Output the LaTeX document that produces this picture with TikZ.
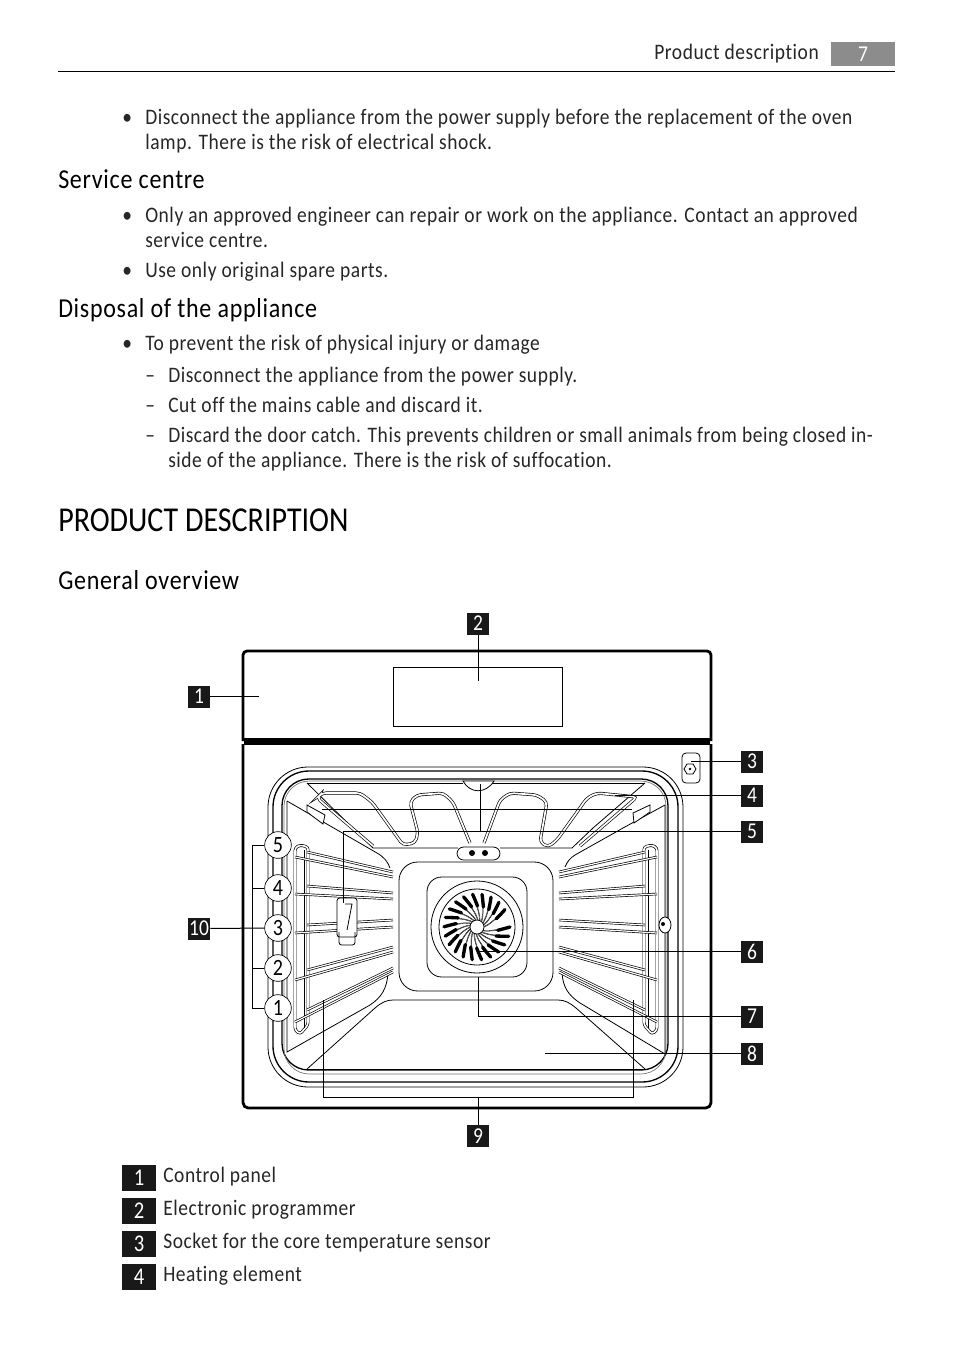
\documentclass[tikz,border=0pt]{standalone}
\usepackage{fontspec}
\setmainfont[FakeStretch=0.88, LetterSpace=2.5, Ligatures=NoCommon]{Carlito}
\newfontfamily\titleFont[FakeStretch=0.86, Ligatures=NoCommon]{Carlito}
\definecolor{headerGray}{gray}{0.55}
\definecolor{sealGray}{gray}{0.45}
\newcommand{\rackSide}{%
  \draw[line width=0.5pt, double=white, double distance=1.2pt, rounded corners=2pt] (295,1030) -- (295,848) -- (300,845) -- (308,847) -- (308,1025) -- (300,1034) -- cycle;
  \draw[line width=0.5pt] (304,850) -- (304,1028);
  \draw[line width=0.5pt, double=white, double distance=1pt] (385,872) -- (385,968);
  \foreach \ya/\yb/\yc/\yd in {852/872/857/877, 886/893/894/899, 925/920/933/927, 970/947/980/952, 1010/968/1022/972} {
    \draw[line width=0.5pt, double=white, double distance=0.9pt] (307,\ya) -- (393,\yb);
    \draw[line width=0.5pt, double=white, double distance=0.9pt] (295,\yc) -- (393,\yd);
  }
}
\begin{document}
\begin{tikzpicture}[x=0.75pt, y=-0.75pt]

          \tikzstyle{bodyText} = [anchor=base west, inner sep=0pt, font=\fontsize{16.6}{20}\selectfont, text=black!85];
          \tikzstyle{headText} = [anchor=base west, inner sep=0pt, font=\fontsize{20.5}{24}\selectfont];
          \tikzstyle{titleText} = [anchor=base west, inner sep=0pt, font=\titleFont\fontsize{26.2}{30}\selectfont];
          \tikzstyle{calloutBox} = [fill=black!90, text=white, inner sep=0pt, minimum size=16.5pt, font=\titleFont\fontsize{17}{18}\selectfont];
          \tikzstyle{legendBox} = [fill=black!90, text=white, inner sep=0pt, minimum width=25.5pt, minimum height=20.2pt, font=\titleFont\fontsize{18}{18}\selectfont];
          \tikzstyle{numberCircle} = [draw, line width=0.5pt, fill=white, circle, inner sep=0pt, minimum size=20pt, font=\titleFont\fontsize{17.5}{18}\selectfont];
          \tikzstyle{calloutEdge} = [line width=0.75pt];
          \tikzstyle{ovenEdge} = [line width=0.6pt];
          \tikzstyle{bodyEdge} = [line width=2.1pt];
          \tikzstyle{heaterEdge} = [line width=0.5pt, double=white, double distance=1.3pt, rounded corners=3pt];

          \useasboundingbox (0,0) rectangle (954,1352);

          \node[bodyText] (header) at (654,59.5) {Product description};
          \node[fill=headerGray, text=white, inner sep=0pt, minimum width=48pt, minimum height=18pt, font=\titleFont\fontsize{17}{18}\selectfont] (page) at (863,54) {7};
          \coordinate (ruleLeft) at (58,71.5);
          \coordinate (ruleRight) at (895,71.5);
          \draw[calloutEdge] (ruleLeft) -- (ruleRight);

          \node[bodyText] (bulletA) at (122,125) {•};
          \node[bodyText] (lineA) at (145,125) {Disconnect the appliance from the power supply before the replacement of the oven};
          \node[bodyText] (lineB) at (145,150) {lamp. There is the risk of electrical shock.};
          \node[headText] (service) at (58,189) {Service centre};
          \node[bodyText] (bulletB) at (122,222) {•};
          \node[bodyText] (lineC) at (145,222) {Only an approved engineer can repair or work on the appliance. Contact an approved};
          \node[bodyText] (lineD) at (145,247) {service centre.};
          \node[bodyText] (bulletC) at (122,277) {•};
          \node[bodyText] (lineE) at (145,277) {Use only original spare parts.};
          \node[headText] (disposal) at (58,317) {Disposal of the appliance};
          \node[bodyText] (bulletD) at (122,350) {•};
          \node[bodyText] (lineF) at (145,350) {To prevent the risk of physical injury or damage};
          \node[bodyText] (dashA) at (145,382) {–};
          \node[bodyText] (lineG) at (168,382) {Disconnect the appliance from the power supply.};
          \node[bodyText] (dashB) at (145,412) {–};
          \node[bodyText] (lineH) at (168,412) {Cut off the mains cable and discard it.};
          \node[bodyText] (dashC) at (145,442) {–};
          \node[bodyText] (lineI) at (168,442) {Discard the door catch. This prevents children or small animals from being closed in-};
          \node[bodyText] (lineJ) at (168,467) {side of the appliance. There is the risk of suffocation.};
          \node[titleText] (title) at (58,531) {PRODUCT DESCRIPTION};
          \node[headText] (overview) at (58,589) {General overview};

          \draw[bodyEdge, rounded corners=3pt] (243,741) -- (243,651) -- (711,651) -- (711,741);
          \draw[line width=5.4pt] (244,741.5) -- (710,741.5);
          \draw[bodyEdge, rounded corners=4pt] (243,744) -- (243,1108) -- (711,1108) -- (711,744);
          \draw[ovenEdge] (393,667) rectangle (562,726);

          \draw[ovenEdge, rounded corners=30pt] (268,767) rectangle (683,1087);
          \draw[line width=1pt, rounded corners=27pt] (273,771) rectangle (678,1082);
          \draw[line width=1pt, rounded corners=20pt] (282,779) rectangle (668,1070);
          \draw[sealGray, line width=0.5pt, rounded corners=19pt] (284,781) rectangle (666,1074);

          \draw[ovenEdge] (307,783) -- (373,848) -- (458,848);
          \draw[ovenEdge] (645,783) -- (593,828) -- (572,848) -- (500,848);
          \draw[ovenEdge] (287,801) -- (377,853) .. controls (384,857) and (388,862) .. (390,868);
          \draw[ovenEdge] (665,805) -- (623,828) -- (575,855) .. controls (570,858) and (567,862) .. (565,867);
          \draw[ovenEdge] (287,801) -- (287,1052) -- (370,1005) .. controls (382,997) and (387,988) .. (388,973);
          \draw[ovenEdge] (665,805) -- (665,1054) -- (580,1003) .. controls (568,995) and (563,987) .. (562,973);
          \draw[ovenEdge] (307,1069) -- (375,1008) .. controls (382,1002) and (387,1000) .. (393,1000) -- (558,1000) .. controls (565,1000) and (570,1003) .. (576,1008) -- (645,1069);
          \draw[ovenEdge] (307,1069) -- (645,1069);
          \draw[ovenEdge, rounded corners=14pt] (399,862) rectangle (553,991);
          \draw[ovenEdge, rounded corners=11pt] (427,877) rectangle (527,977);

          \draw[heaterEdge] (470,843) -- (453,802) -- (443,793) -- (417,795) -- (410,802) -- (418,833) -- (415,843) -- (403,845) -- (372,802) -- (360,793) -- (322,793) -- (317,798) -- (373,846);
          \draw[heaterEdge] (484,843) -- (500,800) -- (510,793) -- (537,795) -- (547,802) -- (540,842) -- (548,847) -- (557,840) -- (587,798) -- (597,793) -- (637,797) -- (580,846);
          \draw[ovenEdge] (307,783) -- (463,783);
          \draw[ovenEdge] (492,783) -- (645,783);
          \draw[ovenEdge, fill=white] (463,781) .. controls (470,794) and (486,794) .. (494,781) -- cycle;
          \draw[ovenEdge, fill=white] (307,805) -- (325,815) -- (323,824) -- (307,812) -- cycle;
          \draw[ovenEdge, fill=white] (650,805) -- (633,813) -- (634,823) -- (650,812) -- cycle;
          \draw[ovenEdge, fill=white, rounded corners=5pt] (457,847) rectangle (500,860);
          \fill (472,853) circle (3);
          \fill (485,853) circle (3);

          \draw[ovenEdge] (477,927) circle (46);
          \draw[ovenEdge] (477,927) circle (38);
          \begin{scope}[shift={(477,927)}]
            \foreach \a in {0,16.4,...,344} {
              \draw[line width=0.3pt] (\a+9:20) .. controls (\a+16:15) and (\a+24:11) .. (\a+34:7);
              \draw[line width=0.3pt] (\a+2:26) .. controls (\a+14:16) and (\a+20:11) .. (\a+28:7);
              \draw[line width=2.5pt, line cap=round] (\a:33) .. controls (\a+3:28) .. (\a+9:21);
            }
          \end{scope}
          \draw[ovenEdge, fill=white] (477,927) circle (7);

          \rackSide
          \begin{scope}[xshift=714pt, xscale=-1]
            \rackSide
          \end{scope}

          \draw[ovenEdge, fill=white, rounded corners=2pt] (337,898) rectangle (357,937);
          \draw[ovenEdge, rounded corners=2pt] (339,932) -- (339,945) -- (355,945) -- (355,932);
          \draw[ovenEdge] (345,904) -- (352,904) -- (347,930);
          \draw[ovenEdge, fill=white] (665,925) ellipse (6 and 8);
          \fill (663,924) circle (2);

          \draw[ovenEdge, rounded corners=3pt] (682,753) rectangle (700,783);
          \draw[ovenEdge] (696,769) -- (693,764) -- (687,764) -- (684,769) -- (687,774) -- (693,774) -- cycle;
          \fill (690,769) circle (1.3);

          \node[calloutBox] (box1) at (199,696.5) {1};
          \node[calloutBox] (box2) at (478,623.5) {2};
          \node[calloutBox] (box3) at (752,761.5) {3};
          \node[calloutBox] (box4) at (752,795.5) {4};
          \node[calloutBox] (box5) at (752,831.5) {5};
          \node[calloutBox] (box6) at (752,951.5) {6};
          \node[calloutBox] (box7) at (752,1016.5) {7};
          \node[calloutBox] (box8) at (752,1053.5) {8};
          \node[calloutBox] (box9) at (478,1136) {9};
          \node[calloutBox] (box10) at (199,928.5) {10};

          \node[numberCircle] (level5) at (278,845) {5};
          \node[numberCircle] (level4) at (278,888) {4};
          \node[numberCircle] (level3) at (278,928) {3};
          \node[numberCircle] (level2) at (278,968) {2};
          \node[numberCircle] (level1) at (278,1008) {1};

          \coordinate (end1) at (259,696.5);
          \coordinate (end2) at (478,681);
          \coordinate (end3) at (691,761.5);
          \coordinate (end4) at (615,795.5);
          \coordinate (end6) at (477,951.5);
          \coordinate (end8) at (545,1053.5);
          \coordinate (bend5) at (343,831.5);
          \coordinate (end5) at (343,903);
          \coordinate (top5) at (480,784);
          \coordinate (mid5) at (480,831.5);
          \coordinate (barLeft) at (322,809);
          \coordinate (barRight) at (632,809);
          \coordinate (end7) at (478,977);
          \coordinate (bend7) at (478,1016.5);
          \coordinate (join9) at (478,1097);
          \coordinate (left9) at (323,1097);
          \coordinate (right9) at (633,1097);
          \coordinate (top9l) at (323,1000);
          \coordinate (top9r) at (633,1000);
          \coordinate (brackTop) at (252,845);
          \coordinate (brackBot) at (252,1008);
          \coordinate (brack4) at (252,888);
          \coordinate (brack2) at (252,968);

          \draw[calloutEdge] (box1) -- (end1);
          \draw[calloutEdge] (box2) -- (end2);
          \draw[calloutEdge] (box3) -- (end3);
          \draw[calloutEdge] (box4) -- (end4);
          \draw[calloutEdge] (box5) -- (bend5) -- (end5);
          \draw[calloutEdge] (top5) -- (mid5);
          \draw[calloutEdge] (barLeft) -- (barRight);
          \draw[calloutEdge] (box6) -- (end6);
          \draw[calloutEdge] (box7) -- (bend7) -- (end7);
          \draw[calloutEdge] (box8) -- (end8);
          \draw[calloutEdge] (box9) -- (join9);
          \draw[calloutEdge] (top9l) -- (left9) -- (right9) -- (top9r);
          \draw[calloutEdge] (box10) -- (level3);
          \draw[calloutEdge] (level5) -- (brackTop) -- (brackBot) -- (level1);
          \draw[calloutEdge] (level4) -- (brack4);
          \draw[calloutEdge] (level2) -- (brack2);

          \node[legendBox] (legend1) at (139,1178) {1};
          \node[legendBox] (legend2) at (139,1211) {2};
          \node[legendBox] (legend3) at (139,1244) {3};
          \node[legendBox] (legend4) at (139,1277) {4};
          \node[bodyText] (item1) at (163,1182) {Control panel};
          \node[bodyText] (item2) at (163,1215) {Electronic programmer};
          \node[bodyText] (item3) at (163,1248) {Socket for the core temperature sensor};
          \node[bodyText] (item4) at (163,1281) {Heating element};
        \end{tikzpicture}
\end{document}
